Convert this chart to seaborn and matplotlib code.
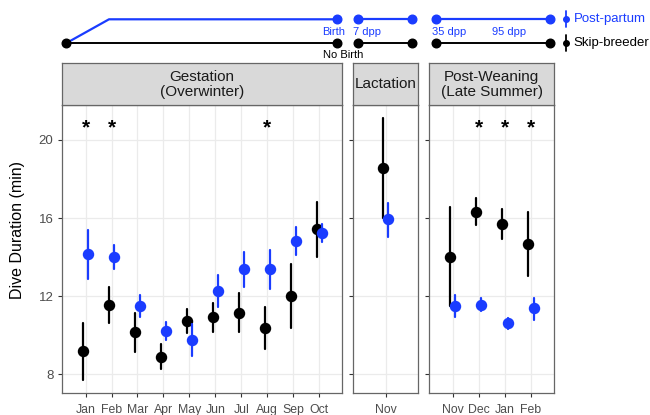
import numpy as np
import pandas as pd
import matplotlib
matplotlib.use("Agg")
import matplotlib.pyplot as plt
import seaborn as sns

# ---------------- data ----------------
gest_months = ["Jan", "Feb", "Mar", "Apr", "May", "Jun", "Jul", "Aug", "Sep", "Oct"]
gest_skip_mean = [9.20, 11.57, 10.17, 8.91, 10.73, 10.94, 11.16, 10.39, 12.03, 15.43]
gest_skip_lo = [7.71, 10.61, 9.16, 8.26, 10.10, 10.19, 10.19, 9.28, 10.39, 14.03]
gest_skip_hi = [10.65, 12.49, 11.16, 9.54, 11.36, 11.67, 12.15, 11.47, 13.65, 16.84]
gest_pp_mean = [14.15, 14.03, 11.50, 10.22, 9.76, 12.25, 13.38, 13.38, 14.85, 15.24]
gest_pp_lo = [12.88, 13.39, 10.92, 9.76, 8.94, 11.43, 12.49, 12.39, 14.11, 14.80]
gest_pp_hi = [15.39, 14.64, 12.08, 10.66, 10.58, 13.09, 14.25, 14.37, 15.56, 15.68]

lact_months = ["Nov"]
lact_skip_mean = [18.55]
lact_skip_lo = [16.02]
lact_skip_hi = [21.11]
lact_pp_mean = [15.94]
lact_pp_lo = [15.05]
lact_pp_hi = [16.79]

pw_months = ["Nov", "Dec", "Jan", "Feb"]
pw_skip_mean = [14.03, 16.33, 15.70, 14.67]
pw_skip_lo = [11.50, 15.65, 14.91, 13.05]
pw_skip_hi = [16.59, 17.01, 16.47, 16.30]
pw_pp_mean = [11.50, 11.57, 10.61, 11.38]
pw_pp_lo = [10.96, 11.26, 10.32, 10.80]
pw_pp_hi = [12.05, 11.89, 10.90, 11.93]

gest_signif = ["Jan", "Feb", "Aug"]
lact_signif = []
pw_signif = ["Dec", "Jan", "Feb"]
signif_y = 20.73

panel_titles = ["Gestation\n(Overwinter)", "Lactation", "Post-Weaning\n(Late Summer)"]
groups = ["Skip-breeder", "Post-partum"]
y_ticks = [8, 12, 16, 20]
y_label = "Dive Duration (min)"

# schematic timeline (top), in pixel units of the overlay
tl_nodes_x = [66, 337, 358, 412, 436, 550]
tl_kink_x = 109
tl_blue_y = 19.3
tl_black_y = 43.3
tl_blue_labels = ["Birth", "7 dpp", "35 dpp", "95 dpp"]
tl_blue_label_x = [334, 367, 449, 509]
tl_black_labels = ["No Birth"]
tl_black_label_x = [343]

BLUE = "#1a3cff"
BLACK = "#000000"
palette = {"Skip-breeder": BLACK, "Post-partum": BLUE}


def long_df(months, sm, sl, sh, pm, pl, ph):
    rows = []
    for i, m in enumerate(months):
        for v in (sl[i], sm[i], sh[i]):
            rows.append((m, "Skip-breeder", v))
        for v in (pl[i], pm[i], ph[i]):
            rows.append((m, "Post-partum", v))
    return pd.DataFrame(rows, columns=["month", "group", "value"])


panels = [
    (gest_months, long_df(gest_months, gest_skip_mean, gest_skip_lo, gest_skip_hi,
                          gest_pp_mean, gest_pp_lo, gest_pp_hi), gest_signif),
    (lact_months, long_df(lact_months, lact_skip_mean, lact_skip_lo, lact_skip_hi,
                          lact_pp_mean, lact_pp_lo, lact_pp_hi), lact_signif),
    (pw_months, long_df(pw_months, pw_skip_mean, pw_skip_lo, pw_skip_hi,
                        pw_pp_mean, pw_pp_lo, pw_pp_hi), pw_signif),
]

# ---------------- style ----------------
sns.set_theme(style="white")
plt.rcParams["font.family"] = ["Liberation Sans", "DejaVu Sans"]

W, H = 650, 415
fig = plt.figure(figsize=(W / 100, H / 100), dpi=100)


def px_axes(left, top, right, bottom, **kw):
    return fig.add_axes([left / W, 1 - bottom / H, (right - left) / W, (bottom - top) / H], **kw)


panel_x = [(61.7, 342.0), (353.3, 418.3), (429.3, 554.0)]
panel_xlim = [(-0.92, 9.88), (-1.25, 1.25), (-0.9, 3.88)]
p_top, p_bot = 105.0, 392.7
s_top = 63.3
ylim = (7.06, 21.79)
border = "#666666"

for i, ((l, r), (months, df, sig)) in enumerate(zip(panel_x, panels)):
    ax = px_axes(l, p_top, r, p_bot)
    ax.set_axisbelow(True)
    sns.pointplot(
        data=df, x="month", y="value", hue="group", order=months,
        hue_order=groups, palette=palette, estimator="median",
        errorbar=lambda v: (v.min(), v.max()), dodge=0.2,
        linestyle="none", markers="o", markersize=6.2,
        err_kws={"linewidth": 1.6}, ax=ax, legend=False,
    )
    ax.set_xlim(*panel_xlim[i])
    ax.set_ylim(*ylim)
    ax.set_yticks(y_ticks)
    ax.grid(True, color="#ebebeb", linewidth=0.9)
    for sp in ax.spines.values():
        sp.set_visible(True)
        sp.set_color(border)
        sp.set_linewidth(0.9)
    ax.tick_params(axis="both", which="major", length=3, width=0.8, color="#333333",
                   left=True, bottom=True, colors="#4d4d4d")
    ax.tick_params(axis="x", labelsize=8.8, pad=5)
    ax.tick_params(axis="y", labelsize=9.5, pad=3)
    ax.set_xlabel("")
    ax.set_ylabel("")
    if i > 0:
        ax.set_yticklabels([])
    for m in sig:
        ax.text(months.index(m), signif_y, "*", ha="center", va="center_baseline",
                fontsize=15, fontweight="bold", color="black")

    # strip
    sax = px_axes(l, s_top, r, p_top)
    sax.set_facecolor("#d9d9d9")
    sax.set_xticks([])
    sax.set_yticks([])
    for sp in sax.spines.values():
        sp.set_visible(True)
        sp.set_color(border)
        sp.set_linewidth(0.9)
    sax.text(0.5, 0.5, panel_titles[i], ha="center", va="center",
             fontsize=11, color="#1a1a1a", linespacing=1.1, transform=sax.transAxes)

fig.text(18 / W, 1 - 230 / H, y_label, rotation=90, ha="center", va="center",
         fontsize=11.5, color="black")

# ---------------- top schematic ----------------
ov = px_axes(0, 0, W, 62)
ov.set_xlim(0, W)
ov.set_ylim(62, 0)
ov.axis("off")
ov.patch.set_alpha(0)

n = tl_nodes_x
# blue (post-partum)
ov.plot([n[0], tl_kink_x, n[1]], [tl_black_y, tl_blue_y, tl_blue_y], color=BLUE, lw=1.6,
        solid_capstyle="round")
ov.plot([n[2], n[3]], [tl_blue_y] * 2, color=BLUE, lw=1.6)
ov.plot([n[4], n[5]], [tl_blue_y] * 2, color=BLUE, lw=1.6)
ov.plot(n[1:], [tl_blue_y] * 5, "o", color=BLUE, ms=6.2, lw=0)
# black (skip-breeder)
ov.plot([n[0], n[1]], [tl_black_y] * 2, color=BLACK, lw=1.4)
ov.plot([n[2], n[3]], [tl_black_y] * 2, color=BLACK, lw=1.4)
ov.plot([n[4], n[5]], [tl_black_y] * 2, color=BLACK, lw=1.4)
ov.plot(n, [tl_black_y] * 6, "o", color=BLACK, ms=6.2, lw=0)

for t, x in zip(tl_blue_labels, tl_blue_label_x):
    ov.text(x, 32, t, ha="center", va="center", fontsize=8, color=BLUE)
for t, x in zip(tl_black_labels, tl_black_label_x):
    ov.text(x, 55.5, t, ha="center", va="center", fontsize=8, color=BLACK)

# legend glyphs
for y, c, lab in [(tl_blue_y, BLUE, "Post-partum"), (tl_black_y, BLACK, "Skip-breeder")]:
    ov.plot([566, 566], [y - 8, y + 8], color=c, lw=1.3)
    ov.plot([566], [y], "o", color=c, ms=4)
    ov.text(573.5, y, lab, ha="left", va="center", fontsize=9.5, color=c)

fig.savefig("out.png", dpi=100)
